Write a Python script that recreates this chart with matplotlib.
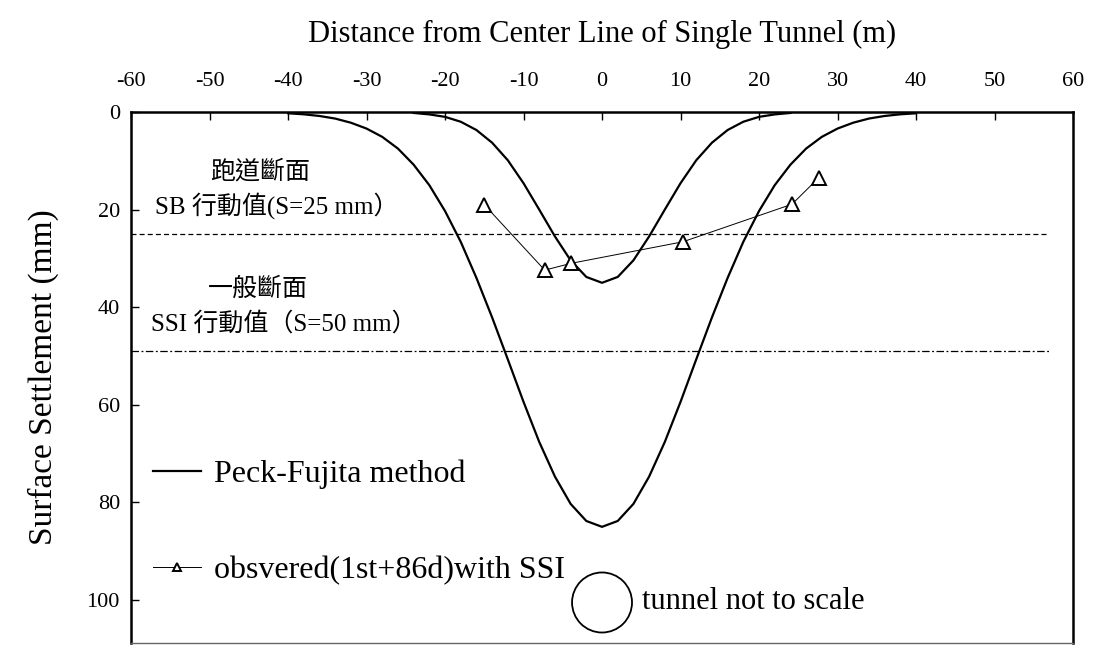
import matplotlib
matplotlib.use("Agg")
import matplotlib.pyplot as plt
from matplotlib.patches import Ellipse

plt.rcParams['font.family'] = ['Liberation Serif', 'Noto Sans CJK TC']
plt.rcParams['axes.unicode_minus'] = False

# Peck-Fujita predictions
wide_x = [-40, -38, -36, -34, -32, -30, -28, -26, -24, -22, -20, -18, -16, -14, -12, -10, -8, -6, -4, -2,
          0, 2, 4, 6, 8, 10, 12, 14, 16, 18, 20, 22, 24, 26, 28, 30, 32, 34, 36, 38, 40]
wide_y = [0.27, 0.48, 0.82, 1.35, 2.2, 3.4, 5.1, 7.5, 10.8, 15.0, 20.3, 26.6, 34.0, 42.1, 50.7, 59.4, 67.6, 74.7, 80.3, 83.8,
          85.0, 83.8, 80.3, 74.7, 67.6, 59.4, 50.7, 42.1, 34.0, 26.6, 20.3, 15.0, 10.8, 7.5, 5.1, 3.4, 2.2, 1.35, 0.82, 0.48, 0.27]
narrow_x = [-24, -22, -20, -18, -16, -14, -12, -10, -8, -6, -4, -2, 0, 2, 4, 6, 8, 10, 12, 14, 16, 18, 20, 22, 24]
narrow_y = [0.2, 0.5, 1.0, 2.0, 3.7, 6.3, 9.9, 14.6, 20.0, 25.5, 30.4, 33.8, 35.0,
            33.8, 30.4, 25.5, 20.0, 14.6, 9.9, 6.3, 3.7, 2.0, 1.0, 0.5, 0.2]

# observed settlement
obs_x = [-15.0, -7.3, -3.9, 10.3, 24.2, 27.6]
obs_y = [19.0, 32.4, 31.0, 26.6, 18.9, 13.5]

# action levels
limit_x = [-60, 57]
sb_level = [25, 25]
ssi_level = [49, 49]

xticks = [-60, -50, -40, -30, -20, -10, 0, 10, 20, 30, 40, 50, 60]
yticks = [0, 20, 40, 60, 80, 100]

fig = plt.figure(figsize=(10.93, 6.45), dpi=100)
ax = fig.add_axes([0.1199, 0.0031, 0.8618, 0.8233])

ax.plot(wide_x, wide_y, color='black', lw=1.6, label='Peck-Fujita method')
ax.plot(narrow_x, narrow_y, color='black', lw=1.6)
ax.plot(obs_x, obs_y, color='black', lw=0.7, marker='^', ms=10,
        mfc='white', mec='black', mew=1.4, label='obsvered(1st+86d)with SSI')
ax.plot(limit_x, sb_level, color='black', lw=0.9, linestyle=(0, (4, 2.5)))
ax.plot(limit_x, ssi_level, color='black', lw=0.9, linestyle=(0, (6, 2, 1.5, 2)))

ax.set_xlim(-60, 60)
ax.set_ylim(108.8, 0)
ax.set_xticks(xticks)
ax.set_yticks(yticks)
ax.xaxis.tick_top()
ax.xaxis.set_label_position('top')
ax.tick_params(axis='both', direction='in', length=6, width=1, labelsize=16)
ax.tick_params(axis='x', pad=15)
ax.tick_params(axis='y', pad=8)
for sp in ax.spines.values():
    sp.set_linewidth(1.8)
ax.spines['bottom'].set_linewidth(1.0)
ax.spines['bottom'].set_color('0.4')

ax.set_xlabel('Distance from Center Line of Single Tunnel (m)', fontsize=22, labelpad=22)
ax.set_ylabel('Surface Settlement (mm)', fontsize=24, labelpad=20)

ax.text(-43.6, 12.3, '跑道斷面', fontsize=18, ha='center', va='center')
ax.text(-57.0, 19.2, 'SB 行動值(S=25 mm）', fontsize=18, ha='left', va='center')
ax.text(-43.8, 36.2, '一般斷面', fontsize=18, ha='center', va='center')
ax.text(-57.4, 43.3, 'SSI 行動值（S=50 mm）', fontsize=18, ha='left', va='center')

ax.add_patch(Ellipse((0, 100.5), 7.64, 12.3, fill=False, color='black', lw=1.3))
ax.text(5.1, 100.3, 'tunnel not to scale', fontsize=22, ha='left', va='center')

ax.legend(loc='upper left', bbox_to_anchor=(0.01, 0.37), frameon=False, fontsize=23,
          handlelength=1.5, handletextpad=0.4, labelspacing=2.1, numpoints=1,
          markerscale=0.6, borderaxespad=0)

fig.savefig('out.png', dpi=100)
